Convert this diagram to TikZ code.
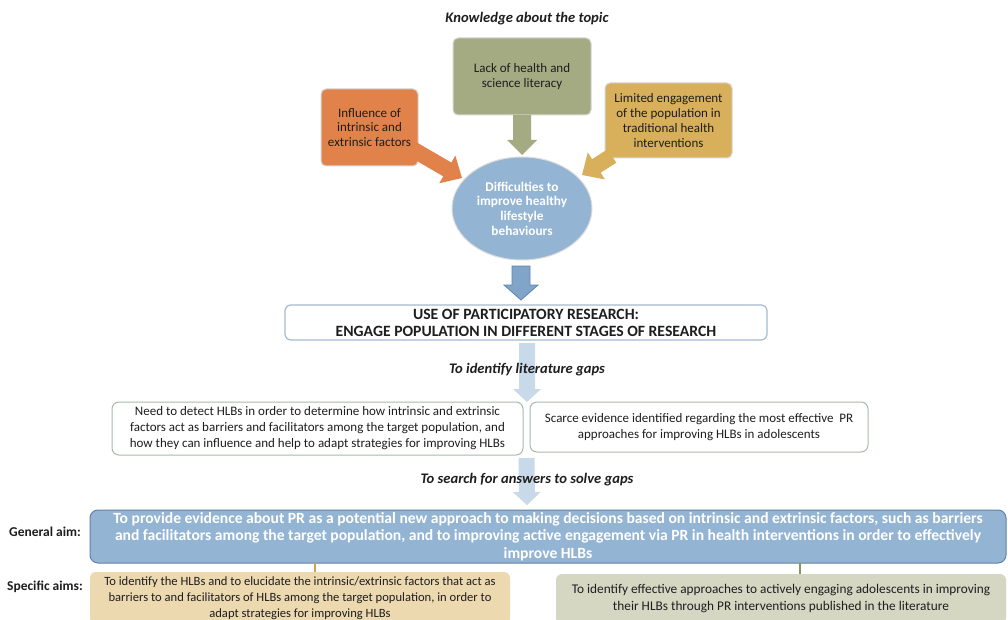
\documentclass[tikz,border=0pt]{standalone}
\usepackage{fontspec}
\setmainfont{Carlito}
\usetikzlibrary{calc,shapes.geometric}

\definecolor{orangeC}{HTML}{E0824A}
\definecolor{greenC}{HTML}{A4AA81}
\definecolor{yellowC}{HTML}{D8B05C}
\definecolor{blueC}{HTML}{94B4D3}
\definecolor{blueArrow}{HTML}{81A5C9}
\definecolor{blueEdge}{HTML}{5F83A8}
\definecolor{paleBlue}{HTML}{C8DAEA}
\definecolor{useEdge}{HTML}{A5BBD0}
\definecolor{gapEdge}{HTML}{A8B9A9}
\definecolor{tanC}{HTML}{EDD9AF}
\definecolor{sageC}{HTML}{D6D7C3}
\definecolor{tanLine}{HTML}{C8A45C}
\definecolor{sageLine}{HTML}{8D9461}
\definecolor{inkC}{HTML}{1E1E1E}

% block arrow: #1 style, #2 start, #3 tip, #4 half shaft, #5 half head, #6 head length
\newcommand\blockarrow[6]{%
  \coordinate (ba-h) at ($(#3)!#6!(#2)$);
  \path[#1] ($(#2)!#4!90:(#3)$) -- ($(ba-h)!#4!90:(#3)$) -- ($(ba-h)!#5!90:(#3)$)
    -- (#3) -- ($(ba-h)!#5!-90:(#3)$) -- ($(ba-h)!#4!-90:(#3)$)
    -- ($(#2)!#4!-90:(#3)$) -- cycle;}

\begin{document}
\begin{tikzpicture}[x=1pt,y=-1pt,
  every node/.style={inner sep=0pt, outer sep=0pt, text=inkC},
  topbox/.style={rectangle, rounded corners=5pt, draw=black!16, line width=1pt,
    align=center, font=\fontsize{13}{14.7}\selectfont},
  heading/.style={font=\fontsize{14.6}{16}\selectfont\bfseries\itshape},
  gapbox/.style={rectangle, rounded corners=7pt, draw=gapEdge, line width=1pt,
    fill=white, align=center, font=\fontsize{13}{16}\selectfont},
  sidelabel/.style={font=\fontsize{13.5}{15}\selectfont\bfseries},
  aimbox/.style={rectangle, rounded corners=6pt, align=center}
]
\clip (0,0) rectangle (1008,620);
\fill[white] (0,0) rectangle (1008,620);

% ---- knowledge about the topic ----
\node[heading] (ttl) at (527,19) {Knowledge about the topic};

\node[ellipse, fill=blueC, draw=black!14, line width=1pt, minimum width=140pt,
  minimum height=103pt] (ell) at (522,208.5) {};

\coordinate (tipO) at (462,178);
\coordinate (tipY) at (582,175);
\coordinate (tipG) at (522,155);

\node[topbox, fill=greenC, minimum width=138pt, minimum height=77pt] (lack)
  at (522,76.5) {};
\node[topbox, fill=orangeC, minimum width=97pt, minimum height=77pt] (infl)
  at (369.5,127.5) {};
\node[topbox, fill=yellowC, minimum width=127pt, minimum height=75pt] (lim)
  at (668.5,120.5) {};

\blockarrow{fill=greenC}{lack.south}{tipG}{9pt}{15pt}{15pt}
\blockarrow{fill=orangeC}{$(infl.east)+(-5,22)$}{tipO}{8pt}{16pt}{17pt}
\blockarrow{fill=yellowC}{$(lim.south west)+(7,-2)$}{tipY}{8pt}{16pt}{17pt}

% box texts on top of the arrow bases
\node[topbox, draw=none, text=inkC] at (lack) {Lack of health and\\science literacy};
\node[topbox, draw=none, text=inkC] at (infl) {Influence of\\intrinsic and\\extrinsic factors};
\node[topbox, draw=none, text=inkC] at (lim)
  {Limited engagement\\of the population in\\traditional health\\interventions};

\node[align=center, text=white, font=\fontsize{13.3}{14.7}\selectfont\bfseries]
  at (ell) {Difficulties to\\improve healthy\\lifestyle\\behaviours};

% ---- participatory research ----
\node[rectangle, rounded corners=6pt, draw=useEdge, line width=1.2pt, fill=white,
  minimum width=482pt, minimum height=35pt, align=center,
  font=\fontsize{15.7}{17}\selectfont\bfseries] (use) at (526,322.5)
  {USE OF PARTICIPATORY RESEARCH:\\ENGAGE POPULATION IN DIFFERENT STAGES OF RESEARCH};

\coordinate (tipB) at (521,300);
\blockarrow{fill=blueArrow, draw=blueEdge, line width=0.8pt}{$(ell.south)+(-1,6)$}{tipB}{9pt}{17pt}{15pt}

% ---- literature gaps ----
\node[gapbox, minimum width=411pt, minimum height=53pt] (gapA) at (317.5,428.5)
  {Need to detect HLBs in order to determine how intrinsic and extrinsic\\
   factors act as barriers and facilitators among the target population, and\\
   how they can influence and help to adapt strategies for improving HLBs};
\node[gapbox, minimum width=338pt, minimum height=50pt] (gapB) at (699,427)
  {Scarce evidence identified regarding the most effective~ PR\\
   approaches for improving HLBs in adolescents};

\coordinate (tipL1) at (527,402);
\blockarrow{fill=paleBlue}{$(use.south)+(1,3)$}{tipL1}{8pt}{14pt}{13pt}
\node[heading] (lbl1) at (527,370) {To identify literature gaps};

% ---- aims ----
\node[aimbox, fill=blueC, draw=blueEdge, line width=1pt, rounded corners=8pt,
  minimum width=916pt, minimum height=53pt, text=white,
  font=\fontsize{15.6}{17.5}\selectfont\bfseries] (gen) at (548,536.5)
  {To provide evidence about PR as a potential new approach to making decisions based on intrinsic and extrinsic factors, such as barriers\\
   and facilitators among the target population, and to improving active engagement via PR in health interventions in order to effectively\\
   improve HLBs};

\coordinate (tipL2) at (527,505);
\blockarrow{fill=paleBlue}{$(gapA.south east)+(3.5,3)$}{tipL2}{8pt}{14pt}{13pt}
\node[heading] (lbl2) at (527,480) {To search for answers to solve gaps};

\node[aimbox, fill=tanC, minimum width=420pt, minimum height=52pt,
  font=\fontsize{12.6}{16}\selectfont] (spA) at (300,598)
  {To identify the HLBs and to elucidate the intrinsic/extrinsic factors that act as\\
   barriers to and facilitators of HLBs among the target population, in order to\\
   adapt strategies for improving HLBs};
\node[aimbox, fill=sageC, minimum width=450pt, minimum height=50pt,
  font=\fontsize{13.3}{17}\selectfont] (spB) at (781,599)
  {To identify effective approaches to actively engaging adolescents in improving\\
   their HLBs through PR interventions published in the literature};

\draw[tanLine, line width=1.3pt] ([xshift=15pt]spA.north) -- ([xshift=15pt]spA.north |- gen.south);
\draw[sageLine, line width=1.3pt] ([xshift=19pt]spB.north) -- ([xshift=19pt]spB.north |- gen.south);

\node[sidelabel] (genlbl) at (45,532) {General aim:};
\node[sidelabel] (speclbl) at (45,587) {Specific aims:};

\end{tikzpicture}
\end{document}
